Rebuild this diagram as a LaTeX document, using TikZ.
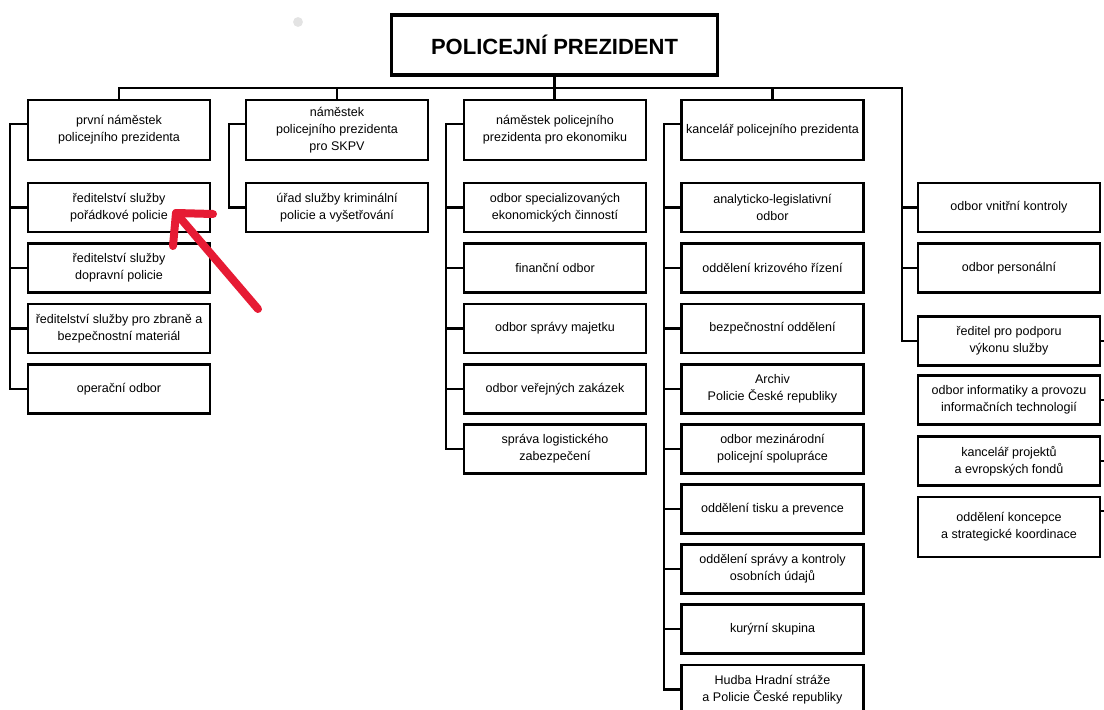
\documentclass[tikz,border=0pt]{standalone}
\usepackage{fontspec}
\setmainfont{Liberation Sans}
\usepackage{tikz}
\usetikzlibrary{arrows}
\definecolor{arrowred}{RGB}{230,27,52}

\begin{document}
\begin{tikzpicture}[x=0.75pt,y=-0.75pt,
  box/.style={draw,line width=1.6pt,minimum width=136.5pt,minimum height=36.75pt,inner sep=1pt,align=center,font=\fontsize{9.4}{12.75}\selectfont},
  tallbox/.style={box,minimum height=45pt},
  conn/.style={line width=1.6pt}]
\useasboundingbox (0,0) rectangle (1104,710);
\clip (0,0) rectangle (1104,710);
%top
\node[draw,line width=2.3pt,minimum width=245pt,minimum height=45pt,font=\bfseries\fontsize{16.5}{19}\selectfont] (pp) at (554.5,45) {POLICEJNÍ PREZIDENT};
\fill[gray!22] (298,22) circle [radius=3.7pt];
%column 1
\node[tallbox] (c1a) at (119,130) {první náměstek\\policejního prezidenta};
\node[box] (c1b) at (119,207.5) {ředitelství služby\\pořádkové policie};
\node[box] (c1c) at (119,268) {ředitelství služby\\dopravní policie};
\node[box] (c1d) at (119,328.5) {ředitelství služby pro zbraně a\\bezpečnostní materiál};
\node[box] (c1e) at (119,389) {operační odbor};
%column 2
\node[tallbox] (c2a) at (337,130) {náměstek\\policejního prezidenta\\pro SKPV};
\node[box] (c2b) at (337,207.5) {úřad služby kriminální\\policie a vyšetřování};
%column 3
\node[tallbox] (c3a) at (555,130) {náměstek policejního\\prezidenta pro ekonomiku};
\node[box] (c3b) at (555,207.5) {odbor specializovaných\\ekonomických činností};
\node[box] (c3c) at (555,268) {finanční odbor};
\node[box] (c3d) at (555,328.5) {odbor správy majetku};
\node[box] (c3e) at (555,389) {odbor veřejných zakázek};
\node[box] (c3f) at (555,449) {správa logistického\\zabezpečení};
%column 4
\node[tallbox] (c4a) at (772.5,130) {kancelář policejního prezidenta};
\node[box] (c4b) at (772.5,207.5) {analyticko-legislativní\\odbor};
\node[box] (c4c) at (772.5,268) {oddělení krizového řízení};
\node[box] (c4d) at (772.5,328.5) {bezpečnostní oddělení};
\node[box] (c4e) at (772.5,389) {Archiv\\Policie České republiky};
\node[box] (c4f) at (772.5,449) {odbor mezinárodní\\policejní spolupráce};
\node[box] (c4g) at (772.5,509) {oddělení tisku a prevence};
\node[box] (c4h) at (772.5,569) {oddělení správy a kontroly\\osobních údajů};
\node[box] (c4i) at (772.5,629) {kurýrní skupina};
\node[box] (c4j) at (772.5,689.5) {Hudba Hradní stráže\\a Policie České republiky};
%column 5
\node[box] (c5a) at (1009,207.5) {odbor vnitřní kontroly};
\node[box] (c5b) at (1009,268) {odbor personální};
\node[box] (c5c) at (1009,341) {ředitel pro podporu\\výkonu služby};
\node[box] (c5d) at (1009,400) {odbor informatiky a provozu\\informačních technologií};
\node[box] (c5e) at (1009,461) {kancelář projektů\\a evropských fondů};
\node[tallbox] (c5f) at (1009,527) {oddělení koncepce\\a strategické koordinace};
%spines
\coordinate (busR) at (902,88);
\coordinate (s1) at (10,0); \coordinate (s2) at (229,0);
\coordinate (s3) at (446,0); \coordinate (s4) at (664,0);
\coordinate (edge) at (1115,0);
%edges
\draw[conn] (pp.south) -- (pp.south |- c3a.north);
\draw[conn] (c1a.north) |- (busR) |- (c5c.west);
\draw[conn] (c2a.north) -- (c2a.north |- busR);
\draw[conn] (c4a.north) -- (c4a.north |- busR);
\draw[conn] (busR |- c5a.west) -- (c5a.west); \draw[conn] (busR |- c5b.west) -- (c5b.west);
\draw[conn] ([yshift=4.5pt]c1a.west) -| (s1 |- c1e.west) -- (c1e.west);
\foreach \n in {b,c,d} \draw[conn] (s1 |- c1\n.west) -- (c1\n.west);
\draw[conn] ([yshift=4.5pt]c2a.west) -| (s2 |- c2b.west) -- (c2b.west);
\draw[conn] ([yshift=4.5pt]c3a.west) -| (s3 |- c3f.west) -- (c3f.west);
\foreach \n in {b,c,d,e} \draw[conn] (s3 |- c3\n.west) -- (c3\n.west);
\draw[conn] ([yshift=4.5pt]c4a.west) -| (s4 |- c4j.west) -- (c4j.west);
\foreach \n in {b,c,d,e,f,g,h,i} \draw[conn] (s4 |- c4\n.west) -- (c4\n.west);
\foreach \n in {c,d,e} \draw[conn] (c5\n.east) -- (c5\n.east -| edge);
\draw[conn] ([yshift=12pt]c5f.east) -- ([yshift=12pt]c5f.east -| edge);
%red arrow
\coordinate (tip) at (176,213); \coordinate (tail) at (258,309);
\coordinate (arm1) at (173,246); \coordinate (arm2) at (213,214);
\draw[arrowred,line width=6pt,line cap=round,line join=round] (tail) -- (tip);
\draw[arrowred,line width=6pt,line cap=round,line join=round] (arm1) -- (tip) -- (arm2);
\end{tikzpicture}
\end{document}
